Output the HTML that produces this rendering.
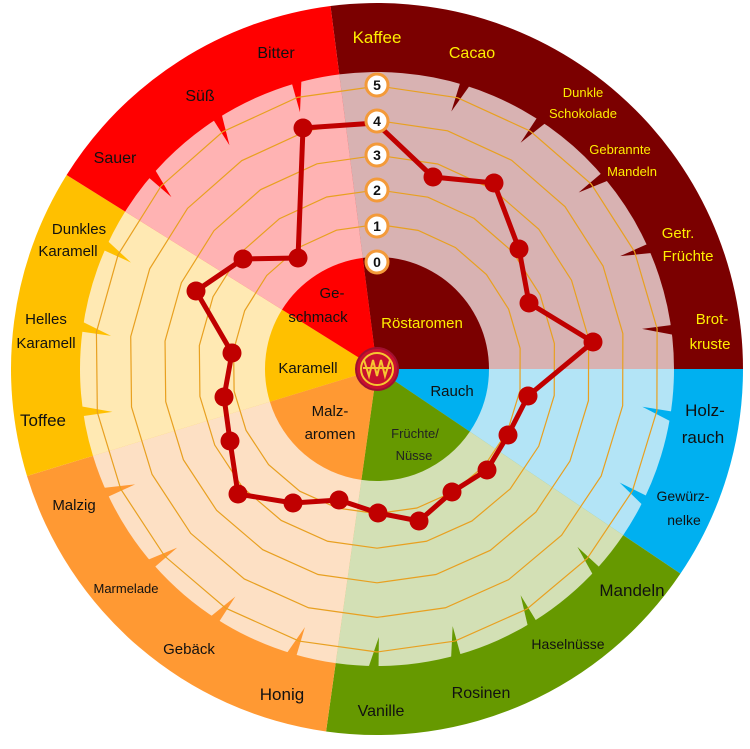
<!DOCTYPE html>
<html><head><meta charset="utf-8"><style>
html,body{margin:0;padding:0;background:#fff;width:750px;height:749px;overflow:hidden}
svg text{font-family:"Liberation Sans",sans-serif;}
</style></head><body>
<svg id="s" width="750" height="749" viewBox="0 0 750 749" xmlns="http://www.w3.org/2000/svg">
<g id="bg"></g>
<g id="rings" fill="none" stroke="#e8a020" stroke-width="1.2"></g>
<g id="inner"></g>
<g id="data"></g>
<g id="badges"></g>
<g font-size="16" fill="#111" text-anchor="middle">
 <g fill="#ffee00">
  <text x="377" y="43" font-size="17">Kaffee</text>
  <text x="472" y="58" font-size="16">Cacao</text>
  <text x="583" y="97" font-size="13">Dunkle</text>
  <text x="583" y="118" font-size="13">Schokolade</text>
  <text x="620" y="154" font-size="13">Gebrannte</text>
  <text x="632" y="176" font-size="13">Mandeln</text>
  <text x="678" y="238" font-size="15">Getr.</text>
  <text x="688" y="261" font-size="15">Früchte</text>
  <text x="712" y="324" font-size="15">Brot-</text>
  <text x="710" y="349" font-size="15">kruste</text>
  <text x="422" y="328" font-size="15">Röstaromen</text>
 </g>
 <text x="705" y="416" font-size="17">Holz-</text>
 <text x="703" y="443" font-size="17">rauch</text>
 <text x="683" y="501" font-size="14">Gewürz-</text>
 <text x="684" y="525" font-size="14">nelke</text>
 <text x="632" y="596" font-size="17">Mandeln</text>
 <text x="568" y="649" font-size="14">Haselnüsse</text>
 <text x="481" y="698" font-size="16">Rosinen</text>
 <text x="381" y="716" font-size="16">Vanille</text>
 <text x="282" y="700" font-size="17">Honig</text>
 <text x="189" y="654" font-size="15">Gebäck</text>
 <text x="126" y="593" font-size="13">Marmelade</text>
 <text x="74" y="510" font-size="15">Malzig</text>
 <text x="43" y="426" font-size="17">Toffee</text>
 <text x="46" y="324" font-size="15">Helles</text>
 <text x="46" y="348" font-size="15">Karamell</text>
 <text x="79" y="234" font-size="15">Dunkles</text>
 <text x="68" y="256" font-size="15">Karamell</text>
 <text x="115" y="163" font-size="16">Sauer</text>
 <text x="200" y="101" font-size="16">Süß</text>
 <text x="276" y="58" font-size="16">Bitter</text>
 <text x="332" y="298" font-size="15">Ge-</text>
 <text x="318" y="322" font-size="15">schmack</text>
 <text x="308" y="373" font-size="15">Karamell</text>
 <text x="330" y="416" font-size="15">Malz-</text>
 <text x="330" y="439" font-size="15">aromen</text>
 <text x="452" y="396" font-size="15">Rauch</text>
 <text x="415" y="438" font-size="13" fill="#222">Früchte/</text>
 <text x="414" y="460" font-size="13" fill="#222">Nüsse</text>
</g>
<g id="emb"></g>
</svg>
<script>
var cx=377,cy=369,NS="http://www.w3.org/2000/svg";
function P(r,a){a=a*Math.PI/180;return [cx+r*Math.sin(a),cy-r*Math.cos(a)];}
function el(g,t,at){var e=document.createElementNS(NS,t);for(var k in at)e.setAttribute(k,at[k]);document.getElementById(g).appendChild(e);return e;}
function sec(r,a1,a2){var p1=P(r,a1),p2=P(r,a2);var l=(a2-a1)>180?1:0;return "M"+cx+","+cy+"L"+p1[0]+","+p1[1]+"A"+r+","+r+" 0 "+l+" 1 "+p2[0]+","+p2[1]+"Z";}
var S=[[-7.3,90,"#7b0000","#d8b2b2"],[90,124,"#00b0f0","#b3e4f6"],[124,188,"#669900","#d3e0b5"],[188,253,"#ff9933","#fde0c4"],[253,302,"#ffc000","#ffe9b3"],[302,352.7,"#ff0000","#ffb3b3"]];
var R=366,RB=297,RI=112;
S.forEach(function(s){el("bg","path",{d:sec(R,s[0],s[1]),fill:s[2]});});
S.forEach(function(s){el("bg","path",{d:sec(RB,s[0],s[1]),fill:s[3]});});
var labs=[[16.5,0],[32.8,0],[49.2,0],[65.5,0],[81.8,0],[98.5,1],[115.5,1],[132,2],[148,2],[164,2],[180,2],[196,3],[212.3,3],[228.6,3],[244.9,3],[261.2,4],[277.5,4],[293.8,4],[310.3,5],[327,5],[343.7,5]];
labs.forEach(function(l){var a=P(RB+1,l[0]-0.3),b=P(RB+1,l[0]+1.6),t=P(268,l[0]-0.4);
el("bg","path",{d:"M"+a[0]+","+a[1]+"L"+b[0]+","+b[1]+"L"+t[0]+","+t[1]+"Z",fill:S[l[1]][2]});});
var angs=[0.2].concat(labs.map(function(l){return l[0];}));
for(var v=1;v<=5;v++){var r=110+34.6*v;var pts=angs.map(function(a){return P(r,a).join(",");}).join(" ");el("rings","polygon",{points:pts});}
S.forEach(function(s){el("inner","path",{d:sec(RI,s[0],s[1]),fill:s[2]});});
var d=[[303,128],[376,123],[433,177],[494,183],[519,249],[529,303],[593,342],[528,396],[508,435],[487,470],[452,492],[419,521],[378,513],[339,500],[293,503],[238,494],[230,441],[224,397],[232,353],[196,291],[243,259],[298,258]];
el("data","polygon",{points:d.map(function(p){return p.join(",");}).join(" "),fill:"none",stroke:"#c00000","stroke-width":5,"stroke-linejoin":"round"});
d.forEach(function(p,i){if(i!=1)el("data","circle",{cx:p[0],cy:p[1],r:9.5,fill:"#c00000"});});
[262,226,190,155,121,85].forEach(function(y,i){el("badges","circle",{cx:377,cy:y,r:11,fill:"#fff",stroke:"#f39a3a","stroke-width":3});
var t=el("badges","text",{x:377,y:y+5,"font-size":14,"font-weight":"bold","text-anchor":"middle",fill:"#111"});t.textContent=String(i);});
el("emb","circle",{cx:cx,cy:cy,r:21,fill:"#c8102e",stroke:"#a01030","stroke-width":2});
el("emb","circle",{cx:cx,cy:cy,r:16,fill:"none",stroke:"#f7c531","stroke-width":2});
el("emb","path",{d:"M364,360 L369,376 L373,360 L377,376 L381,360 L385,376 L390,360 M363,368 L391,368",fill:"none",stroke:"#f7c531","stroke-width":2});
</script>
</body></html>
